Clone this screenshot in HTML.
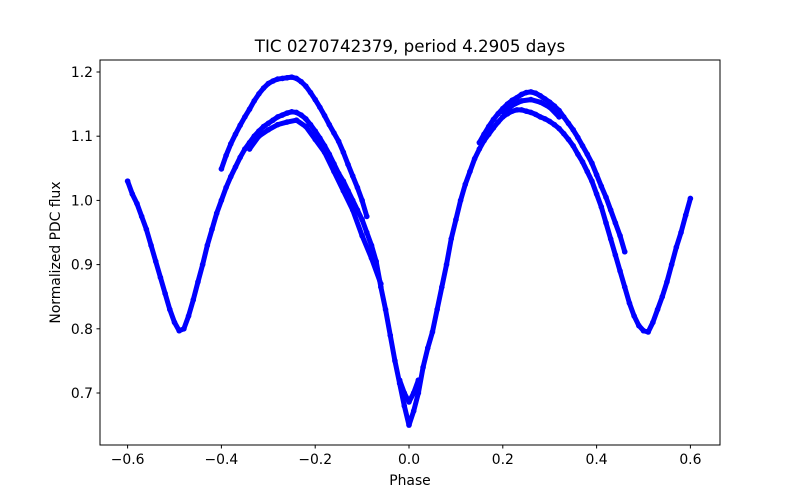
<!DOCTYPE html>
<html><head><meta charset="utf-8"><style>
body{margin:0;background:#fff;}
svg{display:block;font-family:"DejaVu Sans","Liberation Sans",sans-serif;}
</style></head><body>
<svg id="chart" width="800" height="500">
<rect width="800" height="500" fill="#fff"/>
<g id="pts"></g>
<rect x="100" y="60" width="620" height="385" fill="none" stroke="#000" stroke-width="1"/>
<g id="axes"></g>
<text x="410" y="52" text-anchor="middle" font-size="16.7">TIC 0270742379, period 4.2905 days</text>
<text x="410" y="485" text-anchor="middle" font-size="13.9">Phase</text>
<text transform="translate(60,252.5) rotate(-90)" text-anchor="middle" font-size="13.9">Normalized PDC flux</text>
</svg>
<script>
const xTicks=[-0.6,-0.4,-0.2,0.0,0.2,0.4,0.6];
const xTickLabels=["−0.6","−0.4","−0.2","0.0","0.2","0.4","0.6"];
const yTicks=[0.7,0.8,0.9,1.0,1.1,1.2];
const yTickLabels=["0.7","0.8","0.9","1.0","1.1","1.2"];
const mainPhase=[];for(let i=-60;i<=60;i++)mainPhase.push(i/100);
const mainFlux=[1.03,1.01,0.995,0.975,0.955,0.93,0.905,0.88,0.855,0.83,0.81,0.797,0.80,0.82,0.845,0.873,0.90,0.93,0.955,0.98,1.0,1.02,1.037,1.052,1.067,1.08,1.09,1.10,1.108,1.115,1.12,1.125,1.13,1.133,1.136,1.138,1.137,1.133,1.127,1.118,1.108,1.097,1.085,1.072,1.057,1.042,1.03,1.015,1.0,0.985,0.97,0.95,0.93,0.905,0.865,0.83,0.79,0.75,0.715,0.68,0.65,0.672,0.70,0.74,0.77,0.795,0.83,0.865,0.90,0.94,0.97,1.0,1.025,1.045,1.065,1.08,1.093,1.103,1.113,1.122,1.13,1.135,1.139,1.141,1.141,1.139,1.137,1.134,1.13,1.127,1.123,1.118,1.112,1.104,1.095,1.085,1.072,1.06,1.045,1.03,1.01,0.99,0.965,0.94,0.915,0.89,0.865,0.84,0.82,0.805,0.797,0.795,0.81,0.83,0.85,0.873,0.90,0.927,0.95,0.977,1.003];
const lowBandPhase=[-0.34,-0.32,-0.30,-0.28,-0.26,-0.24,-0.22,-0.20,-0.18,-0.16,-0.14,-0.12,-0.10,-0.08,-0.06];
const lowBandFlux=[1.08,1.10,1.11,1.118,1.122,1.125,1.115,1.095,1.075,1.045,1.015,0.985,0.945,0.91,0.87];
const upperLeftPhase=[-0.40,-0.39,-0.38,-0.37,-0.36,-0.35,-0.34,-0.33,-0.32,-0.31,-0.30,-0.29,-0.28,-0.27,-0.26,-0.25,-0.24,-0.23,-0.22,-0.21,-0.20,-0.19,-0.18,-0.17,-0.16,-0.15,-0.14,-0.13,-0.12,-0.11,-0.10,-0.09];
const upperLeftFlux=[1.049,1.07,1.088,1.103,1.117,1.13,1.142,1.155,1.166,1.175,1.182,1.186,1.189,1.19,1.191,1.192,1.19,1.185,1.178,1.168,1.157,1.145,1.132,1.118,1.105,1.092,1.075,1.056,1.038,1.02,1.0,0.975];
const upperRightPhase=[0.15,0.16,0.17,0.18,0.19,0.20,0.21,0.22,0.23,0.24,0.25,0.26,0.27,0.28,0.29,0.30,0.31,0.32,0.33,0.34,0.35,0.36,0.37,0.38,0.39,0.40,0.41,0.42,0.43,0.44,0.45,0.46];
const upperRightFlux=[1.09,1.103,1.115,1.126,1.135,1.143,1.15,1.156,1.16,1.165,1.168,1.169,1.167,1.163,1.158,1.153,1.147,1.14,1.13,1.12,1.11,1.098,1.085,1.072,1.058,1.04,1.022,1.005,0.985,0.965,0.945,0.92];
const midRightPhase=[0.20,0.22,0.24,0.26,0.28,0.30,0.32];
const midRightFlux=[1.138,1.148,1.155,1.157,1.153,1.145,1.13];
const dipInnerPhase=[-0.02,-0.01,0.0,0.01,0.02];
const dipInnerFlux=[0.72,0.70,0.686,0.70,0.72];

const X=v=>409+v*469, Y=v=>72+(1.2-v)*642;
const NS='http://www.w3.org/2000/svg';
const pts=document.getElementById('pts'), axes=document.getElementById('axes');
function series(ph,fl){
 const pl=document.createElementNS(NS,'polyline');
 pl.setAttribute('points',ph.map((p,i)=>X(p)+','+Y(fl[i])).join(' '));
 pl.setAttribute('fill','none');pl.setAttribute('stroke','#0000ff');pl.setAttribute('stroke-width','5');
 pl.setAttribute('stroke-linejoin','round');pl.setAttribute('stroke-linecap','round');
 
 
 pts.appendChild(pl);
 for(let i=0;i<ph.length;i++){
 const c=document.createElementNS(NS,'circle');
 c.setAttribute('cx',X(ph[i]));c.setAttribute('cy',Y(fl[i]));c.setAttribute('r',2.8);c.setAttribute('fill','#0000ff');
 
 
 pts.appendChild(c);}}
series(mainPhase,mainFlux);series(lowBandPhase,lowBandFlux);series(upperLeftPhase,upperLeftFlux);
series(upperRightPhase,upperRightFlux);series(midRightPhase,midRightFlux);series(dipInnerPhase,dipInnerFlux);
xTicks.forEach((t,i)=>{const x=X(t);
 const l=document.createElementNS(NS,'line');l.setAttribute('x1',x);l.setAttribute('x2',x);l.setAttribute('y1',445);l.setAttribute('y2',448.5);l.setAttribute('stroke','#000');
 
 
 axes.appendChild(l);
 const tx=document.createElementNS(NS,'text');tx.setAttribute('x',x);tx.setAttribute('y',464);tx.setAttribute('text-anchor','middle');tx.setAttribute('font-size','13.9');tx.textContent=xTickLabels[i];
 
 
 axes.appendChild(tx);});
yTicks.forEach((t,i)=>{const y=Y(t);
 const l=document.createElementNS(NS,'line');l.setAttribute('x1',96.5);l.setAttribute('x2',100);l.setAttribute('y1',y);l.setAttribute('y2',y);l.setAttribute('stroke','#000');
 
 
 axes.appendChild(l);
 const tx=document.createElementNS(NS,'text');tx.setAttribute('x',93);tx.setAttribute('y',y+5);tx.setAttribute('text-anchor','end');tx.setAttribute('font-size','13.9');tx.textContent=yTickLabels[i];
 
 
 axes.appendChild(tx);});
</script>
</body></html>
